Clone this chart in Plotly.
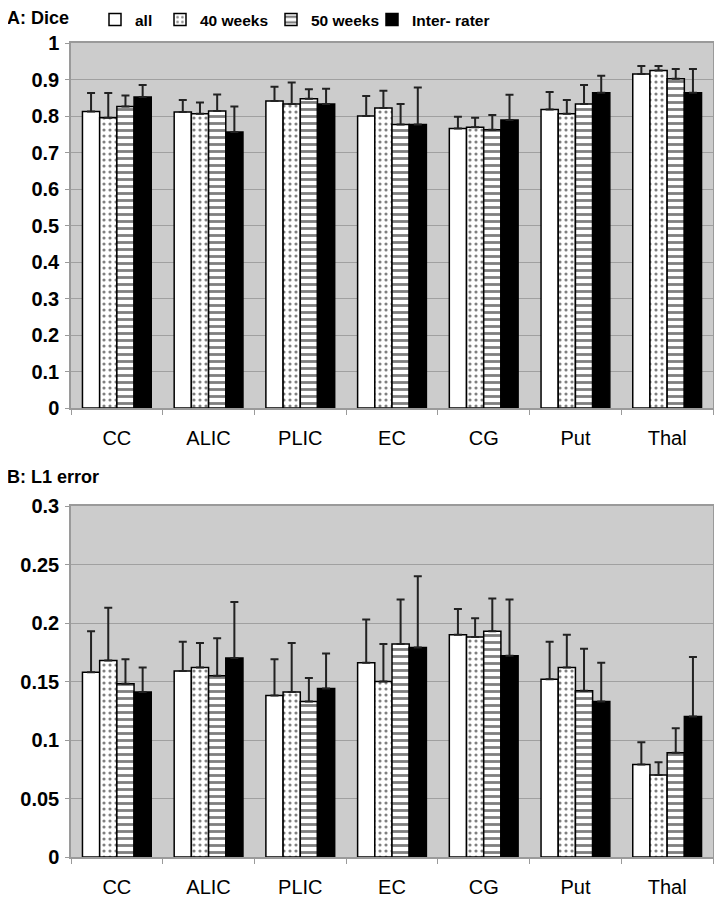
import plotly.graph_objects as go

categories = ["CC", "ALIC", "PLIC", "EC", "CG", "Put", "Thal"]
series_names = ["all", "40 weeks", "50 weeks", "Inter- rater"]

# Panel A: Dice (mean and upward SD)
dice_all = [0.812, 0.811, 0.841, 0.800, 0.766, 0.818, 0.915]
dice_40w = [0.795, 0.806, 0.833, 0.822, 0.769, 0.806, 0.925]
dice_50w = [0.826, 0.814, 0.847, 0.777, 0.762, 0.833, 0.902]
dice_ir = [0.852, 0.756, 0.833, 0.777, 0.789, 0.864, 0.864]
dice_all_sd = [0.051, 0.033, 0.039, 0.055, 0.032, 0.048, 0.022]
dice_40w_sd = [0.068, 0.031, 0.059, 0.047, 0.026, 0.038, 0.012]
dice_50w_sd = [0.030, 0.045, 0.026, 0.056, 0.041, 0.052, 0.027]
dice_ir_sd = [0.033, 0.070, 0.042, 0.101, 0.069, 0.046, 0.065]

# Panel B: L1 error (mean and upward SD)
l1_all = [0.158, 0.159, 0.138, 0.166, 0.190, 0.152, 0.079]
l1_40w = [0.168, 0.162, 0.141, 0.150, 0.188, 0.162, 0.070]
l1_50w = [0.148, 0.155, 0.133, 0.182, 0.193, 0.142, 0.089]
l1_ir = [0.141, 0.170, 0.144, 0.179, 0.172, 0.133, 0.120]
l1_all_sd = [0.035, 0.025, 0.031, 0.037, 0.022, 0.032, 0.019]
l1_40w_sd = [0.045, 0.021, 0.042, 0.032, 0.016, 0.028, 0.011]
l1_50w_sd = [0.021, 0.032, 0.020, 0.038, 0.028, 0.036, 0.021]
l1_ir_sd = [0.021, 0.048, 0.030, 0.061, 0.048, 0.033, 0.051]

FONT = "Liberation Sans, Arial, sans-serif"
W, H = 722, 902
OFF = 8  # page body margin offset

styles = [
    dict(color="white", pattern=None),
    dict(color="white", pattern=dict(shape=".", fgcolor="black", bgcolor="white", size=6, solidity=0.22, fillmode="overlay")),
    dict(color="white", pattern=dict(shape="-", fgcolor="black", bgcolor="white", size=7, solidity=0.4, fillmode="overlay")),
    dict(color="black", pattern=None),
]
legend_ids = ["legend", "legend2", "legend3", "legend4"]
legend_text_x = [135, 200, 311, 412]

fig = go.Figure()

panels = [
    ("x", "y", [dice_all, dice_40w, dice_50w, dice_ir], [dice_all_sd, dice_40w_sd, dice_50w_sd, dice_ir_sd], True),
    ("x2", "y2", [l1_all, l1_40w, l1_50w, l1_ir], [l1_all_sd, l1_40w_sd, l1_50w_sd, l1_ir_sd], False),
]

for xa, ya, vals, sds, show in panels:
    for name, v, sd, st, lg in zip(series_names, vals, sds, styles, legend_ids):
        marker = dict(color=st["color"], line=dict(color="black", width=1.5))
        if st["pattern"] is not None:
            marker["pattern"] = st["pattern"]
        fig.add_trace(go.Bar(
            x=categories, y=v, name=name, xaxis=xa, yaxis=ya,
            marker=marker, showlegend=show, legendgroup=name, legend=lg,
            error_y=dict(type="data", array=sd, symmetric=False,
                         arrayminus=[0] * len(sd), color="#222222",
                         thickness=2, width=4),
        ))


def px_x(p):
    return (p - OFF) / W


def px_y(p):
    return 1 - (p - OFF) / H


xd = [px_x(71), px_x(713)]
axis_common = dict(showline=True, mirror=True, linecolor="#9a9a9a", linewidth=1.5)
xaxis_style = dict(domain=xd, ticks="outside", tickson="boundaries", ticklen=5,
                   tickcolor="#9a9a9a", showgrid=False, ticklabelstandoff=11,
                   tickfont=dict(size=20), **axis_common)
yaxis_style = dict(ticks="outside", ticklen=4, tickcolor="#9a9a9a", gridcolor="#a0a0a0",
                   gridwidth=1, ticklabelstandoff=2, tickfont=dict(size=20, weight="bold"),
                   zeroline=False, **axis_common)

legend_base = dict(orientation="h", y=1 + 5 / H, xanchor="left", yanchor="top",
                   font=dict(size=15.5, weight="bold"), bgcolor="rgba(0,0,0,0)", itemwidth=30)
layout_legends = {}
for lg, tx in zip(legend_ids, legend_text_x):
    layout_legends[lg] = dict(x=(tx - 48) / W, **legend_base)

fig.update_layout(
    width=W, height=H,
    margin=dict(l=0, r=0, t=0, b=0, autoexpand=False),
    paper_bgcolor="white", plot_bgcolor="#cccccc",
    barmode="group", bargap=0.25, bargroupgap=0,
    font=dict(family=FONT, color="black"),
    xaxis=dict(anchor="y", **xaxis_style),
    yaxis=dict(domain=[px_y(408), px_y(43)], anchor="x", range=[0, 1], dtick=0.1, **yaxis_style),
    xaxis2=dict(anchor="y2", **xaxis_style),
    yaxis2=dict(domain=[px_y(857), px_y(506)], anchor="x2", range=[0, 0.3], dtick=0.05, **yaxis_style),
    annotations=[
        dict(text="A: Dice", x=-3 / W, y=1 + 2 / H, xref="paper", yref="paper",
             xanchor="left", yanchor="top", align="left", showarrow=False,
             font=dict(size=18, weight="bold")),
        dict(text="B: L1 error", x=-3 / W, y=1 - 457 / H, xref="paper", yref="paper",
             xanchor="left", yanchor="top", align="left", showarrow=False,
             font=dict(size=18, weight="bold")),
    ],
    **layout_legends,
)

fig.write_html("out.html")
